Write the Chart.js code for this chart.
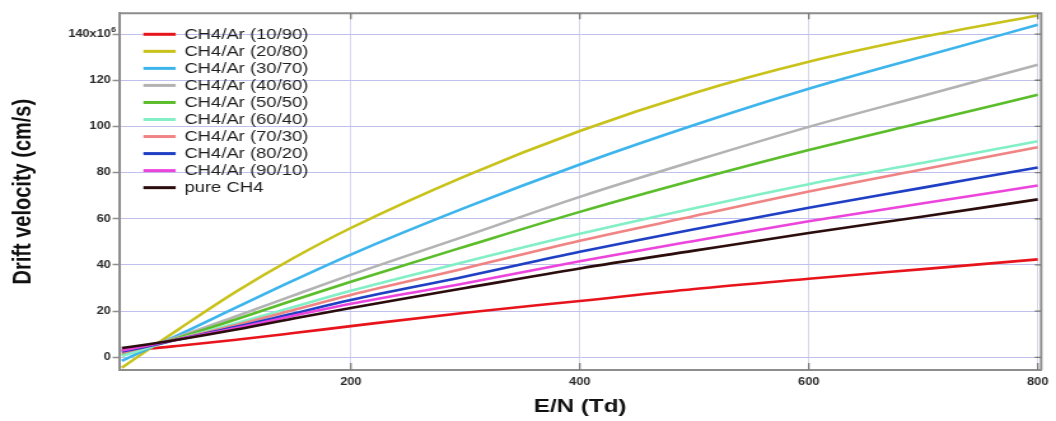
<!DOCTYPE html>
<html lang="en">
<head>
<meta charset="utf-8">
<title>Drift velocity vs E/N</title>
<script src="https://cdn.jsdelivr.net/npm/chart.js@4.4.1/dist/chart.umd.min.js"></script>
<style>
  html, body { margin: 0; padding: 0; background: #fff; overflow: hidden; }
  /* figure is drawn narrow and widened, like the original plot export */
  #wrap { width: 830px; height: 421px; transform: scaleX(1.2723); transform-origin: 0 0; }
</style>
</head>
<body>
<div id="wrap"><canvas id="chart" width="830" height="421"></canvas></div>
<script>
/* E/N in Td */
const EN_TD = [0, 25, 50, 100, 150, 200, 300, 400, 500, 600, 700, 800];

/* drift velocity, 10^6 cm/s */
const V_10_90 = [3.0, 3.8, 5.0, 7.6, 10.5, 13.5, 19.3, 24.4, 29.6, 34.0, 38.2, 42.4];
const V_20_80 = [-4.5, 4.0, 12.3, 28.5, 43.0, 56.0, 78.5, 98.0, 114.5, 128.0, 138.8, 148.0];
const V_30_70 = [-1.5, 4.2, 9.8, 21.6, 33.3, 44.5, 64.8, 83.5, 100.6, 116.3, 130.3, 144.0];
const V_40_60 = [1.5, 5.0, 9.0, 17.8, 26.8, 35.7, 52.5, 69.5, 85.0, 99.8, 113.3, 126.7];
const V_50_50 = [1.0, 4.7, 8.5, 16.5, 24.7, 32.7, 48.0, 63.0, 76.8, 89.8, 101.8, 113.7];
const V_60_40 = [0.5, 4.5, 8.0, 14.8, 21.8, 28.8, 41.4, 53.5, 64.6, 75.0, 84.3, 93.6];
const V_70_30 = [2.0, 5.0, 8.0, 14.0, 20.5, 27.0, 38.6, 50.5, 61.2, 71.8, 81.5, 91.0];
const V_80_20 = [2.5, 5.0, 7.8, 13.2, 19.0, 24.8, 35.0, 45.7, 55.5, 64.8, 73.5, 82.2];
const V_90_10 = [3.0, 5.3, 7.8, 12.7, 18.0, 23.2, 32.1, 41.6, 50.4, 58.9, 66.7, 74.4];
const V_CH4   = [4.0, 5.8, 7.7, 12.0, 16.8, 21.4, 30.0, 38.5, 46.2, 53.8, 61.0, 68.4];

const MIX_NAMES = [
  'CH4/Ar (10/90)', 'CH4/Ar (20/80)', 'CH4/Ar (30/70)', 'CH4/Ar (40/60)', 'CH4/Ar (50/50)',
  'CH4/Ar (60/40)', 'CH4/Ar (70/30)', 'CH4/Ar (80/20)', 'CH4/Ar (90/10)', 'pure CH4'
];
const MIX_VALUES = [V_10_90, V_20_80, V_30_70, V_40_60, V_50_50, V_60_40, V_70_30, V_80_20, V_90_10, V_CH4];
const MIX_COLORS = [
  '#e8141c', '#c8c21a', '#3db5ec', '#b3b3b3', '#5bbd2a',
  '#82efc6', '#f08484', '#1f3fc4', '#ec45dc', '#2b0d0d'
];

const X_TICKS = [200, 400, 600, 800];
const Y_TICKS = [0, 20, 40, 60, 80, 100, 120, 140];

const FONT = 'Liberation Sans, Arial, Helvetica, sans-serif';
const FRAME = '#8d8d8d';

// top/right frame, inward tick marks, exponent on the top label, in-plot legend
const framePlugin = {
  id: 'frame',
  afterDatasetsDraw(chart) {
    const { ctx, chartArea: a, scales } = chart;
    ctx.save();
    ctx.strokeStyle = FRAME;
    ctx.lineWidth = 2;
    ctx.beginPath();
    ctx.moveTo(a.left, a.top); ctx.lineTo(a.right, a.top); ctx.lineTo(a.right, a.bottom);
    ctx.stroke();

    ctx.lineWidth = 1.3;
    ctx.strokeStyle = '#7a7a7a';
    ctx.beginPath();
    X_TICKS.forEach(v => {
      const x = scales.x.getPixelForValue(v);
      ctx.moveTo(x, a.bottom); ctx.lineTo(x, a.bottom - 7);
      ctx.moveTo(x, a.top); ctx.lineTo(x, a.top + 6);
    });
    Y_TICKS.forEach(v => {
      const y = scales.y.getPixelForValue(v);
      ctx.moveTo(a.right, y); ctx.lineTo(a.right - 5, y);
    });
    ctx.stroke();

    // x10^6 exponent after the 140 label
    const yTop = scales.y.getPixelForValue(Y_TICKS[Y_TICKS.length - 1]);
    ctx.fillStyle = '#2a2a2a';
    ctx.font = 'bold 7px ' + FONT;
    ctx.textAlign = 'left';
    ctx.textBaseline = 'middle';
    ctx.fillText('6', a.left - 6.2, yTop - 4);

    // legend
    ctx.font = '14.5px ' + FONT;
    chart.data.datasets.forEach((ds, i) => {
      const y = 34.3 + i * 17.04;
      ctx.strokeStyle = ds.borderColor;
      ctx.lineWidth = 3;
      ctx.beginPath();
      ctx.moveTo(112.7, y); ctx.lineTo(138.1, y);
      ctx.stroke();
      ctx.fillStyle = '#1e1e1e';
      ctx.fillText(ds.label, 144.9, y + 0.5);
    });
    ctx.restore();
  }
};

new Chart(document.getElementById('chart'), {
  type: 'line',
  data: {
    datasets: MIX_NAMES.map((name, i) => ({
      label: name,
      data: EN_TD.map((x, k) => ({ x, y: MIX_VALUES[i][k] })),
      borderColor: MIX_COLORS[i],
      borderWidth: 2.6,
      pointRadius: 0,
      cubicInterpolationMode: 'monotone',
      order: MIX_NAMES.length - i,
    })),
  },
  options: {
    responsive: false,
    animation: false,
    events: [],
    layout: { padding: { left: 0, top: 13.3, right: 7.1, bottom: 0 } },
    plugins: { legend: { display: false }, tooltip: { enabled: false } },
    scales: {
      x: {
        type: 'linear',
        min: -2.5,
        max: 803,
        afterBuildTicks: s => { s.ticks = X_TICKS.map(v => ({ value: v })); },
        afterFit: s => { s.height = 51; },
        grid: { color: '#d6d6ec', lineWidth: 1, drawTicks: false },
        border: { color: FRAME, width: 2 },
        ticks: {
          autoSkip: false, maxRotation: 0, padding: 6, color: '#2a2a2a',
          font: { family: FONT, size: 10, weight: 'bold' },
        },
        title: {
          display: true, text: 'E/N (Td)', color: '#111',
          font: { family: FONT, size: 19, weight: 'bold' },
          padding: { top: 0, bottom: 3 },
        },
      },
      y: {
        type: 'linear',
        min: -5.5,
        max: 149,
        afterBuildTicks: s => { s.ticks = Y_TICKS.map(v => ({ value: v })); },
        afterFit: s => { s.width = 93.5; },
        grid: {
          color: '#c0c0ec', lineWidth: 1, borderDash: [2, 2],
          tickLength: 5, tickColor: FRAME, tickWidth: 1.5, tickBorderDash: [],
        },
        border: { color: FRAME, width: 2 },
        ticks: {
          autoSkip: false, padding: 1.5, color: '#2a2a2a',
          font: { family: FONT, size: 10, weight: 'bold' },
          callback: v => v === 140 ? '140x10' : String(v),
        },
        title: {
          display: true, text: 'Drift velocity (cm/s)', color: '#111',
          font: { family: FONT, size: 20, weight: 'bold' },
          padding: { top: 6, bottom: 0 },
        },
      },
    },
  },
  plugins: [framePlugin],
});
</script>
</body>
</html>
